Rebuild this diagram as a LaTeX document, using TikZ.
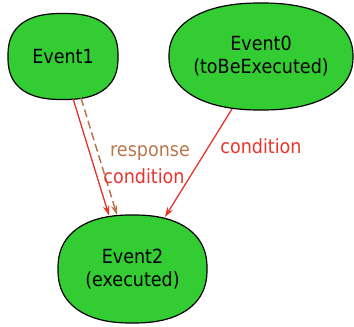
\documentclass[tikz,border=0pt]{standalone}
\usepackage{fontspec}
\setmainfont{DejaVu Sans}[FakeStretch=0.9]
\usetikzlibrary{arrows.meta,backgrounds}
\definecolor{evgreen}{RGB}{51,204,51}
\definecolor{edred}{RGB}{232,52,44}
\definecolor{edbrown}{RGB}{184,118,74}
\tikzset{
  event/.style={align=center, font=\fontsize{19.5}{23}\selectfont, inner sep=0pt},
  eventshape/.style={draw=black, line width=1.2pt, fill=evgreen},
  lbl/.style={font=\fontsize{19.5}{23}\selectfont, inner sep=0pt},
  redarrow/.style={draw=edred, line width=1.3pt, -{Stealth[length=10pt,width=6.5pt]}},
  brownarrow/.style={draw=edbrown, line width=1.5pt, dash pattern=on 8pt off 4pt,
    -{Stealth[length=10pt,width=6.5pt]}}
}
% #1 node, #2 half width, #3 half height, #4 exponent
\newcommand\superell[4]{%
  \path[eventshape, shift={(#1.center)}] plot[domain=0.5:359.5, samples=120]
    ({#2*sign(cos(\x))*abs(cos(\x))^#4},{#3*sign(sin(\x))*abs(sin(\x))^#4}) -- cycle;}
\begin{document}
\begin{tikzpicture}[x=1pt,y=1pt]
\useasboundingbox (0,0) rectangle (354,327);
\node[event] (e1) at (63,270.5) {Event1};
\node[event] (e0) at (261,270.5) {Event0\\(toBeExecuted)};
\node[event] (e2) at (132.5,58) {Event2\\(executed)};
\begin{scope}[on background layer]
\superell{e1}{55}{43}{0.8}
\superell{e0}{92}{53.5}{0.88}
\superell{e2}{74.5}{54}{0.85}
\end{scope}
\draw[redarrow] ([shift={(10pt,-42pt)}]e1.center) -- ([shift={(-23.5pt,53.5pt)}]e2.center);
\draw[brownarrow] ([shift={(18pt,-41.5pt)}]e1.center) -- ([shift={(-15.5pt,54pt)}]e2.center);
\draw[redarrow] ([shift={(-29pt,-52.5pt)}]e0.center) -- ([shift={(32.5pt,52pt)}]e2.center);
\node[lbl, text=edbrown] (lr) at (150,174) {response};
\node[lbl, text=edred] (lc) at (144,151) {condition};
\node[lbl, text=edred] (lc2) at (261,181) {condition};
\end{tikzpicture}
\end{document}
